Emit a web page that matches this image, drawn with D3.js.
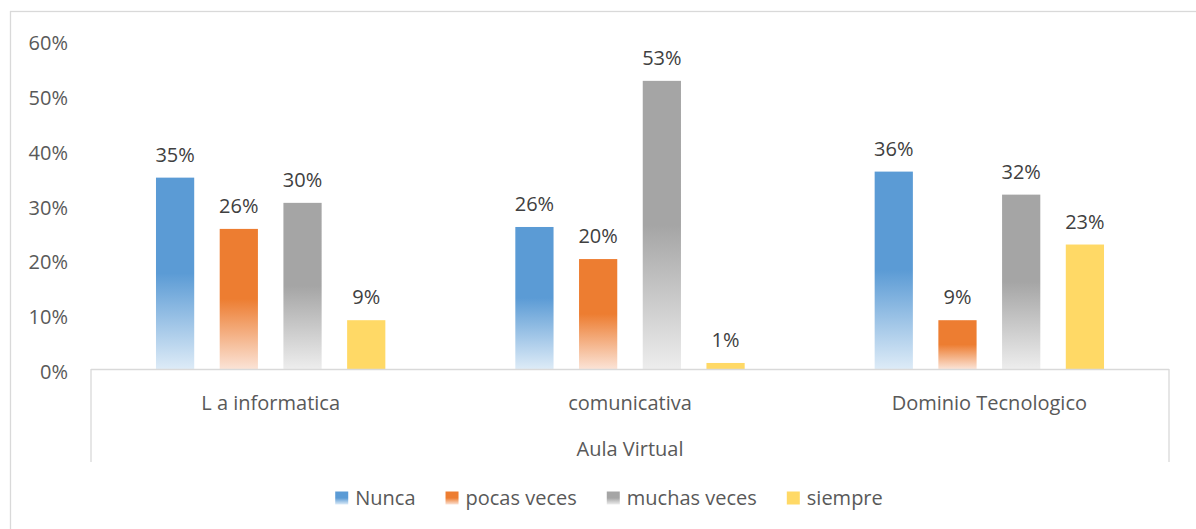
<!DOCTYPE html>
<html>
<head>
<meta charset="utf-8">
<script src="https://cdn.jsdelivr.net/npm/d3@7"></script>
<style>
  html, body { margin: 0; padding: 0; background: #fff; }
  svg { display: block; font-family: "Open Sans", "Noto Sans", sans-serif; }
</style>
</head>
<body>
<svg id="chart" width="1196" height="529"></svg>
<script>
// ---- data ----
const categories = ["L a informatica", "comunicativa", "Dominio Tecnologico"];
const seriesNames = ["Nunca", "pocas veces", "muchas veces", "siempre"];
const nunca = [0.349, 0.259, 0.360];
const pocasVeces = [0.2555, 0.2005, 0.089];
const muchasVeces = [0.303, 0.5255, 0.318];
const siempre = [0.089, 0.011, 0.227];
const groupTitle = "Aula Virtual";
const yTicks = [0, 0.1, 0.2, 0.3, 0.4, 0.5, 0.6];

const seriesValues = [nunca, pocasVeces, muchasVeces, siempre];
const colors = ["#5B9BD5", "#ED7D31", "#A5A5A5", "#FFD966"];
const lightColors = ["#DDEBF7", "#FBE3D6", "#EDEDED", null];

const svg = d3.select("#chart");

// outer chart border
svg.append("rect")
  .attr("x", 10.5).attr("y", 11.5)
  .attr("width", 1300).attr("height", 700)
  .attr("fill", "none").attr("stroke", "#D9D9D9").attr("stroke-width", 1.3);

// gradients
const defs = svg.append("defs");
colors.forEach((c, i) => {
  const g = defs.append("linearGradient")
    .attr("id", "grad" + i)
    .attr("x1", 0).attr("y1", 0).attr("x2", 0).attr("y2", 1);
  if (lightColors[i]) {
    g.append("stop").attr("offset", "0%").attr("stop-color", c);
    g.append("stop").attr("offset", "50%").attr("stop-color", c);
    g.append("stop").attr("offset", "100%").attr("stop-color", lightColors[i]);
  } else {
    g.append("stop").attr("offset", "0%").attr("stop-color", c);
    g.append("stop").attr("offset", "100%").attr("stop-color", c);
  }
});

// scales
const y = d3.scaleLinear().domain([0, 0.6]).range([369, 40]);
const x0 = d3.scaleBand().domain(categories).range([91, 1169]).paddingInner(0).paddingOuter(0);
const x1 = d3.scaleBand().domain(seriesNames).range([0, x0.bandwidth()])
  .paddingInner(0.4).paddingOuter(1.02);

// y axis
const yAxis = svg.append("g")
  .attr("transform", `translate(91,0)`)
  .call(d3.axisLeft(y).tickValues(yTicks).tickFormat(d3.format(".0%")).tickSize(0).tickPadding(23));
yAxis.select(".domain").remove();
yAxis.selectAll("text")
  .attr("dy", "0.48em")
  .style("font-family", "'Open Sans', sans-serif")
  .style("font-size", "20px")
  .attr("fill", "#595959");

// bars
const rows = categories.map((cat, ci) => ({
  cat,
  vals: seriesNames.map((s, si) => ({ s, si, v: seriesValues[si][ci] }))
}));

const groups = svg.append("g").selectAll("g")
  .data(rows).join("g")
  .attr("transform", d => `translate(${x0(d.cat)},0)`);

groups.selectAll("rect")
  .data(d => d.vals).join("rect")
  .attr("x", d => x1(d.s))
  .attr("y", d => y(d.v))
  .attr("width", x1.bandwidth())
  .attr("height", d => y(0) - y(d.v))
  .attr("fill", d => `url(#grad${d.si})`);

groups.selectAll("text")
  .data(d => d.vals).join("text")
  .attr("x", d => x1(d.s) + x1.bandwidth() / 2)
  .attr("y", d => y(d.v) - 16)
  .attr("text-anchor", "middle")
  .style("font-size", "20px")
  .attr("fill", "#404040")
  .text(d => d3.format(".0%")(d.v));

// category axis box
const axisColor = "#D9D9D9";
const [xl, xr] = x0.range();
svg.append("line").attr("x1", xl).attr("x2", xr).attr("y1", y(0) + 0.5).attr("y2", y(0) + 0.5)
  .attr("stroke", axisColor).attr("stroke-width", 1.3);
[xl, xr].forEach(xx => {
  svg.append("line").attr("x1", xx).attr("x2", xx).attr("y1", y(0)).attr("y2", 462)
    .attr("stroke", axisColor).attr("stroke-width", 1.3);
});

const xAxis = svg.append("g")
  .attr("transform", `translate(0,${y(0)})`)
  .call(d3.axisBottom(x0).tickSize(0).tickPadding(27));
xAxis.select(".domain").remove();
xAxis.selectAll("text")
  .style("font-family", "'Open Sans', sans-serif")
  .style("font-size", "20px")
  .attr("fill", "#595959");

svg.append("text")
  .attr("x", (xl + xr) / 2)
  .attr("y", 456)
  .attr("text-anchor", "middle")
  .style("font-size", "20px")
  .attr("fill", "#595959")
  .text(groupTitle);

// legend
const legend = svg.append("g");
const items = legend.selectAll("g").data(seriesNames).join("g");
items.append("rect")
  .attr("width", 13).attr("height", 13)
  .attr("y", -6.5)
  .attr("fill", (d, i) => `url(#grad${i})`);
items.append("text")
  .attr("x", 20)
  .attr("dy", "0.36em")
  .style("font-size", "20px")
  .attr("fill", "#595959")
  .text(d => d);
let cx = 0;
const offs = [];
items.each(function (d, i) {
  const w = d3.select(this).select("text").node().getComputedTextLength();
  offs.push(cx);
  cx += 20 + w + 30;
});
const total = cx - 30;
const legendStart = 609 - total / 2;
items.attr("transform", (d, i) => `translate(${legendStart + offs[i]},498)`);
</script>
</body>
</html>
